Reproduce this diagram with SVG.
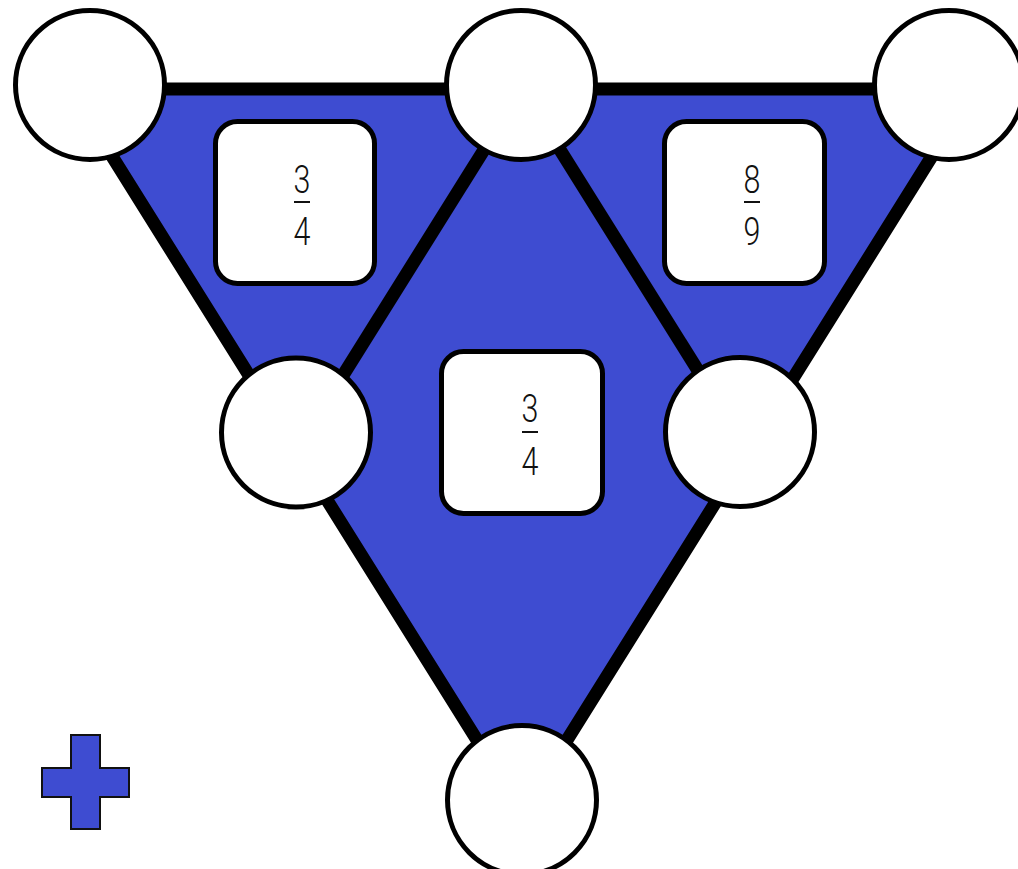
<svg xmlns="http://www.w3.org/2000/svg" width="1018" height="869" viewBox="0 0 1018 869">
  <style>
    .fill { fill: #3e4cd1; }
    .edge { stroke: #000; stroke-width: 13; fill: none; stroke-linejoin: round; }
    .node { fill: #fff; stroke: #000; stroke-width: 5; }
    .box { fill: #fff; stroke: #000; stroke-width: 5; }
    .num { font-family: Roboto, "Liberation Sans", sans-serif; font-size: 39px; font-weight: 300; fill: #111; text-anchor: middle; }
    .bar { stroke: #111; stroke-width: 2; }
  </style>
  <rect width="1018" height="869" fill="#fff"/>
  <g id="connectors">
    <polygon class="fill" points="70,89 974,89 522,812"/>
    <polygon class="edge" points="70,89 974,89 522,812"/>
    <line class="edge" x1="522" y1="89" x2="296" y2="450.5"/>
    <line class="edge" x1="522" y1="89" x2="748" y2="450.5"/>
  </g>
  <g id="circle-top-left"><circle class="node" cx="90" cy="85" r="74.5"/></g>
  <g id="circle-top-middle"><circle class="node" cx="521" cy="85" r="74.5"/></g>
  <g id="circle-top-right"><circle class="node" cx="949" cy="85" r="74.5"/></g>
  <g id="circle-mid-left"><circle class="node" cx="296" cy="432.5" r="74.5"/></g>
  <g id="circle-mid-right"><circle class="node" cx="740" cy="432" r="74.5"/></g>
  <g id="circle-bottom"><circle class="node" cx="522" cy="800" r="74.5"/></g>
  <g id="box-left">
    <rect class="box" x="215.5" y="121.5" width="159" height="162" rx="22"/>
    <text class="num" transform="translate(302,193) scale(0.78,1)">3</text>
    <line class="bar" x1="294" y1="202" x2="310" y2="202"/>
    <text class="num" transform="translate(302,245) scale(0.78,1)">4</text>
  </g>
  <g id="box-right">
    <rect class="box" x="664.5" y="121.5" width="160" height="162" rx="22"/>
    <text class="num" transform="translate(752,193) scale(0.78,1)">8</text>
    <line class="bar" x1="744" y1="202" x2="760" y2="202"/>
    <text class="num" transform="translate(752,245) scale(0.78,1)">9</text>
  </g>
  <g id="box-middle">
    <rect class="box" x="441.5" y="351.5" width="161" height="162" rx="22"/>
    <text class="num" transform="translate(530,422) scale(0.78,1)">3</text>
    <line class="bar" x1="522" y1="432" x2="538" y2="432"/>
    <text class="num" transform="translate(530,475) scale(0.78,1)">4</text>
  </g>
  <g id="plus-sign">
    <polygon class="fill" stroke="#111" stroke-width="2" points="71,735 100,735 100,768 129,768 129,797 100,797 100,829 71,829 71,797 42,797 42,768 71,768"/>
  </g>
</svg>
